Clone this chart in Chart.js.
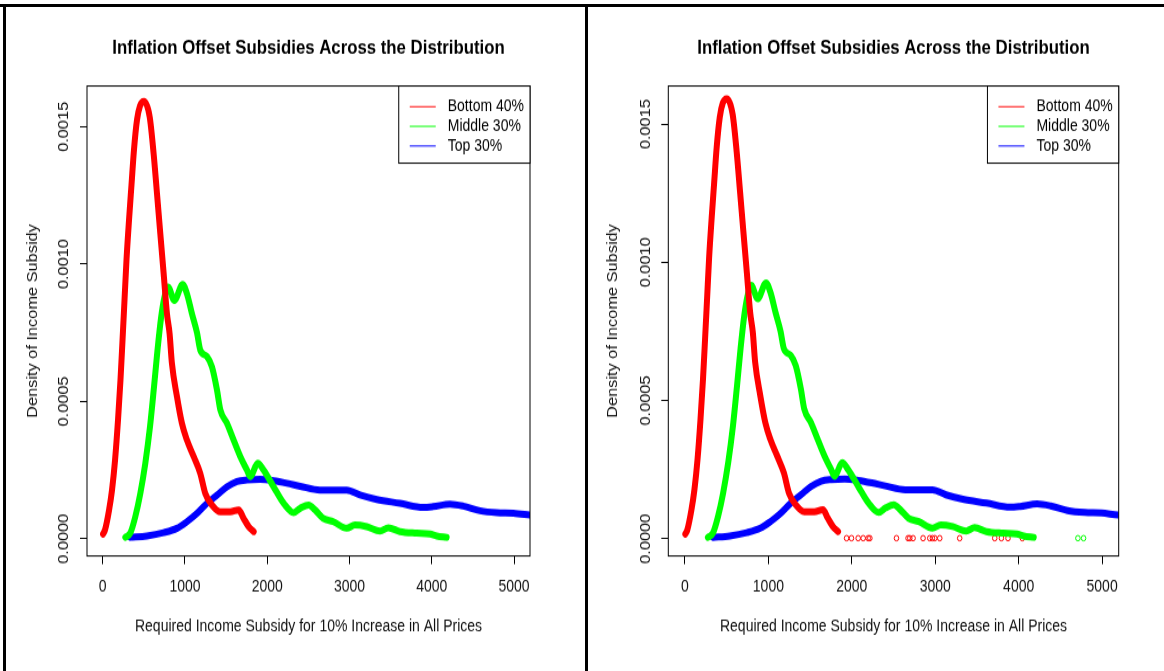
<!DOCTYPE html>
<html>
<head>
<meta charset="utf-8">
<script src="https://cdn.jsdelivr.net/npm/chart.js@4"></script>
<style>
  body { margin: 0; width: 1164px; height: 671px; overflow: hidden; background: #fff; position: relative; }
  .panel { position: absolute; top: 0; height: 574px; transform: scaleY(1.169); transform-origin: 0 0; }
  .rule { position: absolute; background: #000; z-index: 2; }
</style>
</head>
<body>
<div class="panel" style="left:0; width:586px;"><canvas id="chartLeft"></canvas></div>
<div class="panel" style="left:588px; width:576px;"><canvas id="chartRight"></canvas></div>
<div class="rule" style="left:0; top:4px; width:1164px; height:3px;"></div>
<div class="rule" style="left:3px; top:4px; width:3px; height:667px;"></div>
<div class="rule" style="left:585px; top:4px; width:3px; height:667px;"></div>
<script>
// Bottom 40%
const bottomX = [4, 28, 77, 113, 150, 186, 216, 241, 265, 289, 320, 350, 380, 417, 453, 502, 571, 619, 660, 700, 741, 781, 813, 841, 903, 963, 1024, 1106, 1186, 1247, 1328, 1430, 1550, 1653, 1713, 1774, 1835];
const bottomY = [0.000017, 0.000032, 0.000104, 0.000177, 0.000286, 0.000432, 0.000578, 0.000724, 0.000869, 0.001015, 0.001161, 0.001289, 0.001416, 0.001525, 0.001576, 0.001592, 0.001536, 0.001402, 0.001256, 0.001111, 0.000965, 0.000819, 0.000747, 0.000639, 0.000517, 0.00042, 0.000359, 0.000299, 0.000238, 0.000165, 0.000123, 0.000098, 0.000098, 0.000105, 0.000074, 0.000044, 0.000026];
// Middle 30%
const middleX = [275, 335, 396, 457, 518, 575, 624, 666, 709, 751, 794, 871, 972, 1024, 1085, 1146, 1186, 1268, 1328, 1389, 1430, 1511, 1592, 1673, 1753, 1794, 1884, 1956, 2078, 2200, 2321, 2402, 2503, 2581, 2681, 2803, 2966, 3066, 3209, 3371, 3472, 3613, 3816, 3978, 4060, 4181];
const middleY = [0.000005, 0.00002, 0.00008, 0.000165, 0.000275, 0.000408, 0.000554, 0.000687, 0.000804, 0.00088, 0.000917, 0.000868, 0.000926, 0.000892, 0.000819, 0.00075, 0.000687, 0.000663, 0.000626, 0.000542, 0.000469, 0.00042, 0.000359, 0.000299, 0.00025, 0.000226, 0.000275, 0.00025, 0.000189, 0.000129, 0.000095, 0.000111, 0.000123, 0.000105, 0.000074, 0.000062, 0.000038, 0.00005, 0.000044, 0.000028, 0.00004, 0.000026, 0.00002, 0.000017, 0.00001, 0.000005];
// Top 30%
const topX = [335, 538, 741, 903, 1024, 1146, 1268, 1389, 1511, 1632, 1753, 1915, 2078, 2240, 2402, 2641, 2966, 3128, 3331, 3613, 3897, 4018, 4221, 4383, 4586, 4790, 4992, 5194, 5300];
const topY = [0.000005, 0.00001, 0.000022, 0.000038, 0.000062, 0.000092, 0.000129, 0.000159, 0.000189, 0.000208, 0.000214, 0.000216, 0.000211, 0.000202, 0.000191, 0.000177, 0.000177, 0.000159, 0.000143, 0.000129, 0.000114, 0.000117, 0.000126, 0.000119, 0.000102, 0.000095, 0.000093, 0.000086, 0.000085];
// isolated near-zero observations shown only in the second plot
const bottomZeroX = [1937, 1996, 2076, 2136, 2196, 2216, 2535, 2674, 2695, 2734, 2854, 2934, 2966, 2994, 3054, 3293, 3713, 3793, 3872, 4044];
const middleZeroX = [4710, 4778];

const seriesNames = ['Bottom 40%', 'Middle 30%', 'Top 30%'];
const seriesColors = ['#ff0000', '#00ff00', '#0000ff'];
const xTicks = [0, 1000, 2000, 3000, 4000, 5000];
const yTicks = [0, 0.0005, 0.0010, 0.0015];

const FONT = '"Liberation Sans", Arial, Helvetica, sans-serif';

function pts(xs, ys) {
    return xs.map((x, i) => ({ x: x, y: ys[i] }));
}

const plotBox = {
    id: 'plotBox',
    afterDraw(chart) {
        const { ctx, chartArea: a } = chart;
        ctx.save();
        ctx.strokeStyle = '#000';
        ctx.lineWidth = 1;
        ctx.strokeRect(a.left, a.top, a.right - a.left, a.bottom - a.top);
        ctx.restore();
    }
};

// R style legend box in the top right corner of the plot
const legendBox = {
    id: 'legendBox',
    afterDraw(chart) {
        const { ctx, chartArea: a } = chart;
        const items = chart.data.datasets.filter(d => d.inLegend);
        ctx.save();
        ctx.font = '14px ' + FONT;
        const tw = Math.max(...items.map(d => ctx.measureText(d.label).width));
        const w = 49 + tw + 6, h = 66;
        const x0 = a.right - w, y0 = a.top;
        ctx.fillStyle = '#fff';
        ctx.fillRect(x0, y0, w, h);
        ctx.strokeStyle = '#000';
        ctx.lineWidth = 1;
        ctx.strokeRect(x0, y0, w, h);
        items.forEach((d, i) => {
            const yy = y0 + 17.7 + i * 16.8;
            ctx.strokeStyle = d.borderColor;
            ctx.beginPath();
            ctx.moveTo(x0 + 11, yy);
            ctx.lineTo(x0 + 37, yy);
            ctx.stroke();
            ctx.fillStyle = '#000';
            ctx.textBaseline = 'middle';
            ctx.fillText(d.label, x0 + 49, yy);
        });
        ctx.restore();
    }
};

function curve(i, xs, ys) {
    return {
        label: seriesNames[i],
        data: pts(xs, ys),
        inLegend: true,
        borderColor: seriesColors[i],
        backgroundColor: seriesColors[i],
        borderWidth: 6,
        borderCapStyle: 'round',
        borderJoinStyle: 'round',
        cubicInterpolationMode: 'monotone',
        pointRadius: 0,
        clip: 0
    };
}

function zeros(i, xs) {
    return {
        label: seriesNames[i] + ' zeros',
        data: xs.map(x => ({ x: x, y: 0.000002 })),
        inLegend: false,
        showLine: false,
        borderColor: seriesColors[i],
        backgroundColor: 'rgba(0,0,0,0)',
        pointStyle: 'circle',
        pointRadius: 2.3,
        pointBorderWidth: 1
    };
}

function makePanel(id, p) {
    const datasets = [
        curve(0, bottomX, bottomY),
        curve(1, middleX, middleY),
        curve(2, topX, topY)
    ];
    if (p.showZeros) {
        datasets.push(zeros(0, bottomZeroX));
        datasets.push(zeros(1, middleZeroX));
    }
    const tickFont = { family: FONT, size: 14 };
    const tickGrid = { drawOnChartArea: false, drawTicks: true, tickLength: 7, color: '#000', lineWidth: 1 };
    new Chart(document.getElementById(id), {
        type: 'line',
        data: { datasets: datasets },
        options: {
            responsive: true,
            maintainAspectRatio: false,
            animation: false,
            layout: { padding: { left: 0, top: 0, bottom: 0, right: p.padRight } },
            plugins: {
                legend: { display: false },
                tooltip: { enabled: false },
                title: {
                    display: true,
                    fullSize: false,
                    text: 'Inflation Offset Subsidies Across the Distribution',
                    color: '#000',
                    font: { family: FONT, size: 16.8, weight: 'bold' },
                    padding: { top: 31.0, bottom: 22.4 }
                }
            },
            scales: {
                x: {
                    type: 'linear',
                    min: p.xMin,
                    max: p.xMax,
                    afterBuildTicks: s => { s.ticks = xTicks.map(v => ({ value: v })); },
                    afterFit: s => { s.height = 98.4; },
                    ticks: { callback: v => String(v), color: '#111', font: tickFont, padding: 11.6, maxRotation: 0, autoSkip: false },
                    grid: tickGrid,
                    border: { display: false },
                    title: {
                        display: true,
                        text: 'Required Income Subsidy for 10% Increase in All Prices',
                        color: '#111',
                        font: tickFont,
                        padding: { top: 0, bottom: 29.2 }
                    }
                },
                y: {
                    type: 'linear',
                    min: p.yMin,
                    max: p.yMax,
                    afterBuildTicks: s => { s.ticks = yTicks.map(v => ({ value: v })); },
                    afterFit: s => { s.width = p.yWidth; },
                    ticks: { callback: v => v.toFixed(4), color: '#111', font: tickFont, minRotation: 90, maxRotation: 90, crossAlign: 'center', padding: p.yLabelPad, autoSkip: false },
                    grid: tickGrid,
                    border: { display: false },
                    title: {
                        display: true,
                        text: 'Density of Income Subsidy',
                        color: '#111',
                        font: tickFont,
                        padding: { top: p.yTitlePad, bottom: 0 }
                    }
                }
            }
        },
        plugins: [plotBox, legendBox]
    });
}

makePanel('chartLeft', { xMin: -191, xMax: 5194, yMin: -0.000063, yMax: 0.0016485, yWidth: 87, padRight: 56, yLabelPad: -5.9, yTitlePad: 24.6, showZeros: false });
makePanel('chartRight', { xMin: -200, xMax: 5199, yMin: -0.0000625, yMax: 0.001638, yWidth: 80.3, padRight: 45.3, yLabelPad: -6.4, yTitlePad: 16.6, showZeros: true });
</script>
</body>
</html>
